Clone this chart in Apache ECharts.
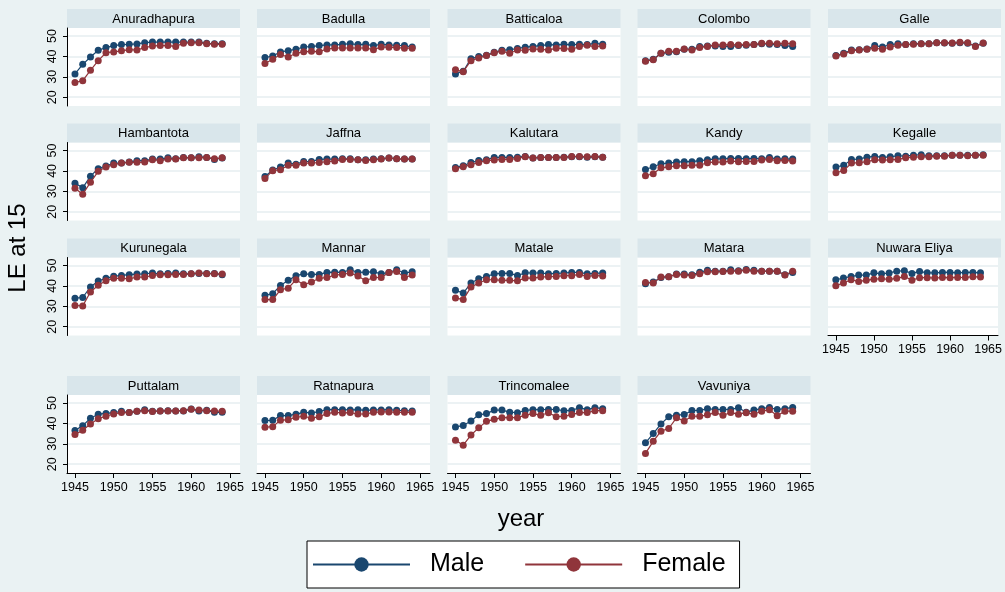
<!DOCTYPE html>
<html>
<head>
<meta charset="utf-8">
<script src="https://cdn.jsdelivr.net/npm/echarts@6/dist/echarts.min.js"></script>
<style>
html,body{margin:0;padding:0;background:#EAF2F3;}
#chart{width:1005px;height:592px;}
</style>
</head>
<body>
<div id="chart"></div>
<script>
const years = [1945,1946,1947,1948,1949,1950,1951,1952,1953,1954,1955,1956,1957,1958,1959,1960,1961,1962,1963,1964];
const xTicks = [1945,1950,1955,1960,1965];
const yTicks = [20,30,40,50];
const districts = ["Anuradhapura","Badulla","Batticaloa","Colombo","Galle","Hambantota","Jaffna","Kalutara","Kandy","Kegalle","Kurunegala","Mannar","Matale","Matara","Nuwara Eliya","Puttalam","Ratnapura","Trincomalee","Vavuniya"];
const male = [
  [31.4,36.1,39.7,43.0,44.3,45.3,45.8,45.9,46.1,46.7,47.0,47.0,47.0,47.0,47.0,47.0,47.0,46.4,46.2,46.2],
  [39.4,40.2,42.2,42.8,43.5,44.6,44.8,45.3,45.6,45.6,45.9,46.2,45.8,45.9,45.3,45.9,45.6,45.4,45.3,44.6],
  [31.4,32.7,38.9,39.9,40.5,42.0,43.0,43.3,43.8,44.5,44.9,45.3,45.8,45.6,45.9,45.8,45.9,45.8,46.4,45.9],
  [37.8,38.6,41.5,42.0,42.3,43.5,43.5,44.8,45.1,45.1,44.9,44.9,45.3,45.4,45.8,46.2,45.9,45.8,45.3,44.8],
  [40.4,41.5,43.1,43.3,43.6,45.3,44.6,45.8,46.2,45.8,46.2,46.2,46.2,46.7,46.6,46.4,46.7,46.4,45.1,46.4],
  [34.0,31.7,37.4,41.1,42.4,43.8,43.8,44.3,45.0,45.0,45.8,45.8,46.4,45.9,46.6,46.4,46.9,46.6,45.6,46.3],
  [37.3,40.4,41.9,43.8,43.3,44.6,44.6,45.6,45.8,45.8,45.9,45.9,45.4,45.4,45.8,45.9,46.3,45.9,45.8,45.8],
  [41.7,42.5,44.1,45.1,45.4,46.6,46.6,46.6,46.7,47.1,46.3,46.6,46.6,46.6,46.7,46.9,46.9,46.7,46.9,46.7],
  [40.7,42.0,43.5,43.8,44.3,44.5,44.5,45.0,45.4,45.9,45.9,46.1,46.1,45.9,46.1,45.9,46.6,45.8,45.9,45.8],
  [41.9,42.7,45.6,45.8,46.7,47.1,46.6,46.9,47.4,47.2,47.7,47.9,47.4,47.4,47.4,47.6,47.7,47.7,47.7,47.9],
  [34.0,34.3,39.5,42.4,43.7,44.7,45.1,45.5,45.8,45.9,46.3,45.9,46.1,46.3,45.9,45.9,46.1,46.1,46.1,45.5],
  [35.4,36.2,40.2,42.7,45.0,45.9,45.6,45.6,46.6,46.7,46.6,47.9,46.6,46.7,46.9,45.9,46.6,47.9,46.3,46.9],
  [37.8,36.5,41.4,43.5,44.6,45.9,46.1,46.1,45.1,46.4,46.3,46.3,45.9,46.1,46.3,46.6,46.6,45.9,46.1,46.3],
  [41.1,41.9,44.1,44.5,45.8,45.8,45.4,46.7,47.6,47.2,47.2,47.9,47.4,48.0,47.6,47.2,47.2,47.2,45.4,46.6],
  [43.0,43.8,44.6,45.3,45.3,46.4,45.9,46.3,47.2,47.4,46.1,47.1,46.4,46.4,46.6,46.6,46.4,46.6,46.6,46.4],
  [36.5,38.9,42.5,44.5,44.9,45.3,45.9,45.3,45.9,46.7,45.9,46.1,46.2,46.1,46.1,47.1,46.1,46.4,45.4,45.4],
  [41.4,41.5,43.8,43.8,44.5,45.4,45.1,45.8,46.7,46.7,46.7,46.6,46.7,46.4,46.6,46.6,46.7,46.4,46.2,46.1],
  [38.2,39.0,41.2,44.2,44.8,46.5,46.5,45.5,45.2,46.3,46.7,46.7,46.8,46.8,46.2,46.3,47.7,46.7,47.7,47.2],
  [30.5,35.0,39.7,43.3,44.0,44.3,46.3,46.3,47.2,46.8,46.8,46.8,47.7,45.5,46.5,47.2,47.8,46.8,47.2,47.8]
];
const female = [
  [27.2,28.1,33.2,37.9,41.8,42.2,42.7,43.3,43.1,44.3,45.1,45.3,45.3,44.9,46.4,46.7,46.7,46.2,45.9,45.9],
  [36.5,38.6,40.9,39.7,41.5,42.3,42.5,42.3,43.6,44.1,44.1,44.1,44.1,44.1,43.3,44.6,44.5,44.3,44.0,44.0],
  [33.4,32.5,37.9,39.2,40.4,41.8,42.5,41.5,43.1,43.0,43.6,43.5,43.1,44.0,43.8,43.5,44.8,45.4,44.8,45.1],
  [37.6,38.3,41.5,42.5,42.5,43.6,43.1,44.3,44.9,45.6,45.6,45.8,45.6,45.8,45.8,46.4,46.4,46.2,46.4,46.2],
  [40.2,41.2,42.8,43.1,43.5,44.0,43.5,44.6,45.4,45.8,45.9,46.2,46.2,46.7,46.7,46.6,46.9,46.7,44.8,46.6],
  [31.5,28.6,34.4,39.8,41.9,43.0,43.8,44.2,44.2,44.3,45.5,45.0,45.8,45.8,46.4,46.4,46.4,46.6,45.9,46.4],
  [36.3,40.1,40.6,42.8,42.7,43.8,43.8,44.1,44.5,44.8,45.6,45.6,45.4,45.1,45.4,45.8,46.3,45.9,45.8,45.8],
  [41.1,42.0,43.0,44.1,45.0,45.3,45.6,45.6,46.1,46.9,46.3,46.6,46.6,46.6,46.6,47.1,47.1,46.9,47.1,46.7],
  [37.6,38.6,41.5,42.0,42.5,42.5,42.8,42.8,44.0,44.3,44.3,44.8,44.5,44.6,44.6,45.3,45.6,45.0,45.1,44.8],
  [39.1,40.2,43.8,44.0,44.5,45.4,45.3,45.4,45.6,46.4,46.7,46.9,46.9,47.2,47.2,47.6,47.7,47.4,47.7,47.7],
  [30.4,30.2,37.0,40.3,42.5,43.7,43.7,43.5,44.3,44.3,45.1,45.5,45.5,45.6,45.6,45.9,46.3,45.9,45.9,45.8],
  [33.3,33.3,38.1,38.9,43.0,40.6,41.9,43.7,44.1,45.3,45.6,46.3,44.8,42.5,44.1,44.1,46.6,47.1,44.1,45.3],
  [34.1,33.3,39.4,41.4,43.0,43.0,42.7,42.7,42.5,43.8,43.8,44.3,44.5,44.6,45.0,45.0,45.6,44.6,45.1,44.8],
  [41.7,41.4,44.3,44.5,45.6,45.3,45.1,45.9,46.9,46.9,47.1,47.2,47.2,47.6,47.2,47.2,47.2,47.2,45.3,47.2],
  [40.1,41.4,43.0,42.2,42.7,43.3,43.5,43.2,43.7,44.6,42.8,44.0,44.0,43.8,44.1,44.0,44.1,44.1,44.5,44.3],
  [34.5,36.6,39.7,42.3,43.5,44.6,45.3,45.3,45.9,46.2,45.8,46.1,46.1,46.1,46.2,46.9,46.6,46.2,46.1,45.9],
  [38.1,38.4,41.5,41.8,43.0,43.5,42.5,43.3,44.8,45.4,45.1,45.3,44.6,44.6,45.4,45.6,45.6,45.4,45.4,45.4],
  [31.8,29.3,34.3,37.8,41.0,42.0,42.8,42.8,42.8,44.0,44.8,44.0,45.2,43.3,43.5,44.3,45.3,45.3,46.2,46.2],
  [25.3,31.2,36.2,37.5,42.7,41.2,43.5,43.5,44.2,45.3,44.0,45.3,44.5,45.2,44.5,46.0,46.7,43.7,46.0,46.0]
];

const MALE_C = '#1A476F', FEMALE_C = '#90353B';
const FONT = '"Liberation Sans", Arial, Helvetica, sans-serif';
const colLeft = [67, 257, 447.5, 637.5, 828];
const rowTop = [9, 123.5, 238.5, 376];
const PW = 173, HH = 19, PH = 78;
const ncol = 5;

const grids = [], xAxes = [], yAxes = [], series = [], graphics = [];
districts.forEach((name, i) => {
  const r = Math.floor(i / ncol), c = i % ncol;
  const left = colLeft[c], top = rowTop[r];
  grids.push({left: left, top: top + HH, width: PW, height: PH, show: true, backgroundColor: '#ffffff', borderWidth: 0, containLabel: false});
  const isBottom = (i + ncol >= districts.length);
  const isLeft = (c === 0);
  xAxes.push({
    gridIndex: i, type: 'value', min: 1943.97, max: 1966.3, show: isBottom,
    axisLine: {show: true, onZero: false, lineStyle: {color: '#000', width: 1}},
    axisTick: {show: true, length: 5, customValues: xTicks, lineStyle: {color: '#000'}},
    axisLabel: {show: true, customValues: xTicks, margin: 8, color: '#000', fontSize: 12.5, fontFamily: FONT, formatter: v => String(v)},
    splitLine: {show: false}
  });
  yAxes.push({
    gridIndex: i, type: 'value', min: 15.7, max: 53.9,
    axisLine: {show: isLeft, lineStyle: {color: '#000', width: 1}},
    axisTick: {show: isLeft, length: 4, customValues: yTicks, lineStyle: {color: '#000'}},
    axisLabel: {show: isLeft, customValues: yTicks, rotate: 90, margin: 8, color: '#000', fontSize: 12.5, fontFamily: FONT},
    splitLine: {show: true, lineStyle: {color: '#E6EEF0', width: 1.5}}
  });
  const mk = (arr, nm, col) => ({
    name: nm, type: 'line', xAxisIndex: i, yAxisIndex: i,
    data: years.map((y, k) => [y, arr[i][k]]),
    symbol: 'circle', symbolSize: 7, showSymbol: true,
    lineStyle: {color: col, width: 1.2}, itemStyle: {color: col},
    emphasis: {disabled: true}, animation: false, z: nm === 'Male' ? 2 : 3
  });
  series.push(mk(male, 'Male', MALE_C));
  series.push(mk(female, 'Female', FEMALE_C));
  graphics.push({type: 'rect', shape: {x: left, y: top, width: PW, height: HH}, style: {fill: '#D9E6EB'}, silent: true});
  graphics.push({type: 'text', x: left + PW / 2, y: top + HH / 2 + 0.5, style: {text: name, fill: '#000', font: '13px ' + FONT, textAlign: 'center', textVerticalAlign: 'middle'}, silent: true});
});

graphics.push({type: 'text', x: 18, y: 248, rotation: Math.PI / 2, style: {text: 'LE at 15', fill: '#000', font: '24px ' + FONT, textAlign: 'center', textVerticalAlign: 'middle'}});
graphics.push({type: 'text', x: 521, y: 519, style: {text: 'year', fill: '#000', font: '24px ' + FONT, textAlign: 'center', textVerticalAlign: 'middle'}});

const chart = echarts.init(document.getElementById('chart'), null, {renderer: 'canvas'});
chart.setOption({
  backgroundColor: '#EAF2F3',
  animation: false,
  grid: grids, xAxis: xAxes, yAxis: yAxes, series: series,
  legend: {
    data: ['Male', 'Female'],
    left: 307, top: 541, orient: 'horizontal',
    backgroundColor: '#ffffff', borderColor: '#000', borderWidth: 1,
    padding: [11, 14, 11, 5],
    itemWidth: 97, itemHeight: 18, itemGap: 40,
    selectedMode: false,
    textStyle: {fontSize: 25, fontFamily: FONT, color: '#000', padding: [0, 0, 0, 15]},
    itemStyle: {borderWidth: 0},
    lineStyle: {width: 2}
  },
  graphic: graphics
});
</script>
</body>
</html>
